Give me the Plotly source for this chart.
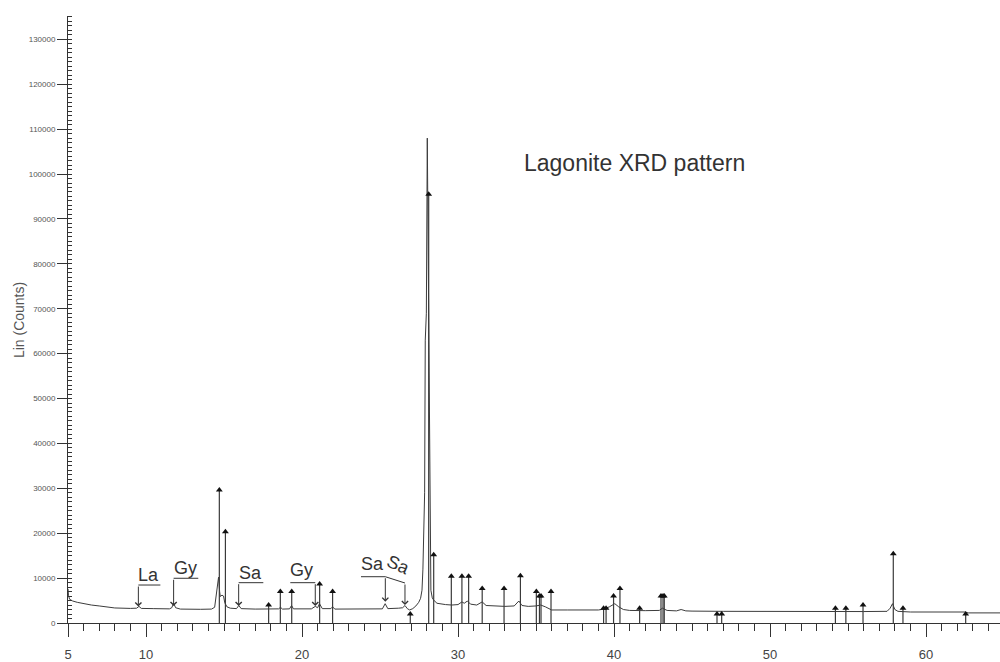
import plotly.graph_objects as go

# ---- measured pattern (2-theta, counts) ----
two_theta = [5.00, 5.03, 5.10, 5.30, 5.60, 6.00, 6.50, 7.00, 7.50, 8.00, 9.00, 9.40, 9.55, 9.70,
             10.5, 11.5, 11.65, 11.77, 11.9, 12.2, 13.5, 14.2, 14.40, 14.55, 14.65, 14.72, 14.76,
             14.87, 14.97, 15.05, 15.19, 15.4, 15.8, 15.95, 16.1, 17.0, 18.0, 18.5, 18.62, 18.75,
             19.2, 19.33, 19.45, 20.6, 20.85, 21.0, 21.12, 21.3, 21.85, 21.96, 22.1, 24.0, 25.15,
             25.33, 25.5, 26.2, 26.45, 26.6, 26.75, 26.9, 27.1, 27.3, 27.48, 27.6, 27.69, 27.75,
             27.8, 27.86, 27.9, 27.97, 28.03, 28.1, 28.15, 28.2, 28.26, 28.35, 28.44, 28.65, 28.9,
             29.2, 29.6, 30.0, 30.25, 30.4, 30.6, 30.8, 31.2, 31.55, 31.8, 32.5, 33.0, 33.6, 33.9,
             34.1, 34.5, 35.0, 35.3, 35.6, 36.0, 37.0, 38.0, 39.0, 39.35, 39.7, 40.05, 40.3, 40.6,
             41.0, 42.0, 42.9, 43.1, 43.4, 44.0, 44.3, 44.6, 45.0, 47.0, 50.0, 53.0, 55.0, 56.0,
             57.5, 57.7, 57.85, 58.0, 58.2, 59.0, 62.5, 62.7, 64.74]
counts = [7600, 6200, 5300, 4900, 4600, 4300, 4000, 3800, 3550, 3350, 3250, 3300, 3700, 3250,
          3200, 3150, 3400, 4400, 3400, 3100, 3050, 3100, 3500, 7300, 10200, 7000, 5900,
          6200, 6000, 4500, 3600, 3300, 3200, 3900, 3200, 3100, 3100, 3150, 3500, 3100,
          3150, 3900, 3150, 3150, 3700, 3400, 4300, 3200, 3200, 3600, 3100, 3050, 3150,
          4300, 3200, 3300, 3400, 3900, 3200, 2900, 3200, 3800, 4600, 5500, 7300, 12000,
          20700, 29000, 63000, 69000, 108000, 70000, 48000, 20000, 7300, 5600, 5100, 4400, 4200,
          4100, 4000, 4100, 4700, 4400, 4900, 4200, 4000, 4700, 3900, 3700, 3700, 3800, 4900,
          3900, 3700, 3800, 4000, 3600, 2900, 2900, 2850, 2900, 3100, 3600, 4300, 3600, 3000,
          2800, 2750, 2800, 3300, 2800, 2700, 3000, 2700, 2650, 2600, 2550, 2500, 2500, 2550,
          2600, 3300, 4300, 3000, 2600, 2450, 2450, 2250, 2250]

# ---- reference phase sticks ----
stick_pos = [14.70, 15.09, 17.86, 18.61, 19.34, 21.13, 21.96, 26.94, 28.12, 28.44, 29.57, 30.25,
             30.68, 31.55, 32.95, 34.00, 35.02, 35.22, 35.32, 35.96, 39.33, 39.49, 39.97, 40.38,
             41.64, 43.01, 43.14, 43.22, 46.60, 46.90, 54.19, 54.86, 55.96, 57.90, 58.52, 62.54]
stick_val = [29600, 20300, 4000, 7000, 7000, 8700, 7000, 2000, 95500, 15200, 10400, 10400,
             10400, 7700, 7700, 10500, 7000, 6000, 6000, 7000, 3300, 3300, 6000, 7700,
             3300, 6000, 6000, 6000, 2000, 2000, 3300, 3300, 4000, 15400, 3300, 2000]

x_tick_vals = [5, 10, 20, 30, 40, 50, 60]
y_tick_vals = list(range(0, 130001, 10000))

FONT = "Liberation Sans, Arial, sans-serif"
INK = "#333333"

sx, sy = [], []
for p, v in zip(stick_pos, stick_val):
    sx += [p, p, None]
    sy += [0, v, None]

fig = go.Figure()
fig.add_trace(go.Scatter(x=sx, y=sy, mode="lines", line=dict(color="#3a3a3a", width=1.2),
                         hoverinfo="skip", showlegend=False))
fig.add_trace(go.Scatter(x=two_theta, y=counts, mode="lines", line=dict(color="#3c3c3c", width=1),
                         showlegend=False))
fig.add_trace(go.Scatter(x=stick_pos, y=stick_val, mode="markers",
                         marker=dict(symbol="triangle-up", size=6, color="#111111"),
                         showlegend=False))

# phase labels with bracket arrows: (text, text_x, text_y, line_x0, line_x1, line_y, arrow_x, tip_y)
labels = [
    ("La", 10.15, 10700, 9.51, 10.92, 8460, 9.51, 3670),
    ("Gy", 12.55, 12250, 11.77, 13.35, 9960, 11.77, 3790),
    ("Sa", 16.69, 11140, 15.94, 17.52, 8980, 15.94, 3790),
    ("Gy", 19.95, 11800, 19.25, 20.85, 8980, 20.85, 3790),
    ("Sa", 24.50, 13140, 23.78, 25.34, 10310, 25.34, 4740),
]
shapes = []
annotations = []
for t, tx, ty, lx0, lx1, ly, axx, tip in labels:
    shapes.append(dict(type="line", xref="x", yref="y", x0=lx0, x1=lx1, y0=ly, y1=ly,
                       line=dict(color=INK, width=1)))
    annotations.append(dict(x=tx, y=ty, xref="x", yref="y", text=t, showarrow=False,
                            font=dict(family=FONT, size=18, color=INK)))
    annotations.append(dict(x=axx, y=tip, xref="x", yref="y", ax=axx, ay=ly, axref="x", ayref="y",
                            text="", showarrow=True, arrowhead=4, arrowsize=1.2, arrowwidth=1,
                            arrowcolor=INK))
# rotated Sa
shapes.append(dict(type="line", xref="x", yref="y", x0=25.34, x1=26.6, y0=10310, y1=8910,
                   line=dict(color=INK, width=1)))
annotations.append(dict(x=26.6, y=4000, xref="x", yref="y", ax=26.6, ay=8910, axref="x", ayref="y",
                        text="", showarrow=True, arrowhead=4, arrowsize=1.2, arrowwidth=1,
                        arrowcolor=INK))
annotations.append(dict(x=26.2, y=13000, xref="x", yref="y", text="Sa", textangle=24,
                        showarrow=False, font=dict(family=FONT, size=18, color=INK)))
# title
annotations.append(dict(x=41.3, y=102450, xref="x", yref="y", text="Lagonite XRD pattern",
                        showarrow=False, font=dict(family=FONT, size=23, color=INK)))
# y title
annotations.append(dict(x=-0.0526, y=0.499, xref="paper", yref="paper", text="Lin (Counts)",
                        xanchor="center", yanchor="middle",
                        textangle=-90, showarrow=False, font=dict(family=FONT, size=14, color="#555555")))

fig.update_layout(
    width=1000, height=662,
    margin=dict(l=68, r=0, t=16, b=39),
    paper_bgcolor="white", plot_bgcolor="white",
    shapes=shapes, annotations=annotations,
    showlegend=False,
    font=dict(family=FONT),
)
fig.update_xaxes(range=[5, 64.74], showgrid=False, zeroline=False, showline=True,
                 linecolor=INK, linewidth=1,
                 tickmode="array", tickvals=x_tick_vals, ticks="outside", ticklen=13,
                 tickcolor=INK, tickwidth=1,
                 ticklabelstandoff=6,
                 tickfont=dict(family=FONT, size=13, color="#444444"),
                 minor=dict(dtick=1, ticks="outside", ticklen=7, tickcolor=INK, tickwidth=1, showgrid=False))
fig.update_yaxes(range=[0, 135200], showgrid=False, zeroline=False, showline=True,
                 linecolor=INK, linewidth=1,
                 tickmode="array", tickvals=y_tick_vals, tickformat="d",
                 ticks="outside", ticklen=10, tickcolor=INK, tickwidth=1,
                 tickfont=dict(family=FONT, size=8, color="#555555"),
                 minor=dict(dtick=1000, ticks="inside", ticklen=4, tickcolor=INK, tickwidth=1, showgrid=False))

fig.write_html("out.html")
